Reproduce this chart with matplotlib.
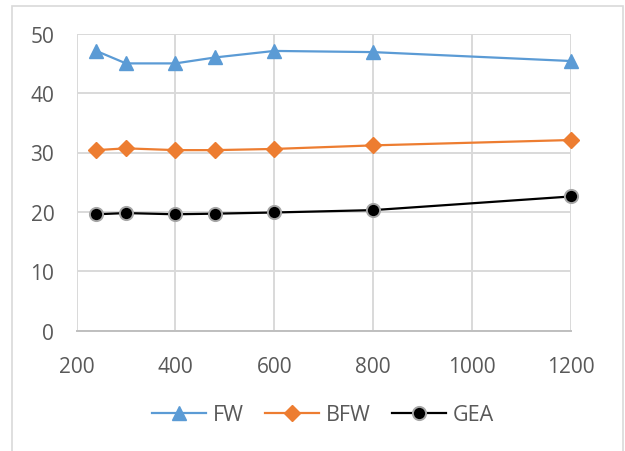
import matplotlib
matplotlib.use("Agg")
import matplotlib.pyplot as plt
from matplotlib.patches import Rectangle

# sample sizes and the three series
x_vals = [240, 300, 400, 480, 600, 800, 1200]
fw = [47.1, 45.0, 45.0, 46.0, 47.1, 46.9, 45.4]
bfw = [30.4, 30.7, 30.4, 30.4, 30.6, 31.2, 32.1]
gea = [19.6, 19.8, 19.6, 19.7, 19.9, 20.3, 22.6]

x_ticks = [200, 400, 600, 800, 1000, 1200]
y_ticks = [0, 10, 20, 30, 40, 50]

font_size = 15
text_color = '#595959'
grid_color = '#d9d9d9'

plt.rcParams['font.family'] = ['Open Sans', 'DejaVu Sans']

fig = plt.figure(figsize=(6.25, 4.52), dpi=100)

# chart area border (bottom edge runs off the page)
fig.patches.append(Rectangle((12 / 625, -0.05), (622.5 - 12) / 625, 1 - 6.7 / 452 + 0.05,
                             transform=fig.transFigure, fill=False,
                             edgecolor=grid_color, linewidth=1.2))

ax = fig.add_axes([76.5 / 625, 1 - 331.7 / 452, (571 - 76.5) / 625, (331.7 - 34.7) / 452])

ax.plot(x_vals, fw, color='#5B9BD5', linewidth=1.6, marker='^', markersize=10,
        markeredgecolor='#5B9BD5', label='FW', zorder=3, clip_on=False)
ax.plot(x_vals, bfw, color='#ED7D31', linewidth=1.6, marker='D', markersize=8,
        markeredgecolor='#ED7D31', label='BFW', zorder=3, clip_on=False)
ax.plot(x_vals, gea, color='black', linewidth=1.6, marker='o', markersize=9.5,
        markeredgecolor='#a6a6a6', markeredgewidth=1.4, label='GEA', zorder=3, clip_on=False)

ax.set_xlim(200, 1200)
ax.set_ylim(0, 50)
ax.set_xticks(x_ticks)
ax.set_yticks(y_ticks)

ax.grid(True, color=grid_color, linewidth=1.4)
ax.set_axisbelow(True)
for side in ['top', 'right', 'left']:
    ax.spines[side].set_visible(False)
ax.spines['bottom'].set_color('#bfbfbf')
ax.spines['bottom'].set_linewidth(1.4)

ax.tick_params(axis='both', length=0, labelsize=font_size, colors=text_color)
ax.tick_params(axis='y', pad=16)
ax.tick_params(axis='x', pad=18)

fig.legend(loc='center', bbox_to_anchor=(323 / 625, 1 - 415.7 / 452), ncol=3, frameon=False,
           fontsize=15.5, labelcolor=text_color, handlelength=2.5,
           handletextpad=0.3, columnspacing=1.0)

fig.savefig('out.png', dpi=100)
